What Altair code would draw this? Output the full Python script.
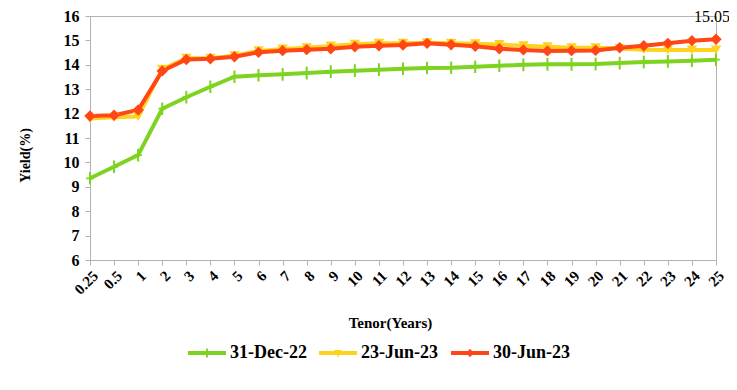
import altair as alt
import pandas as pd

tenor = ["0.25", "0.5", "1", "2", "3", "4", "5", "6", "7", "8", "9", "10", "11", "12",
         "13", "14", "15", "16", "17", "18", "19", "20", "21", "22", "23", "24", "25"]
series_names = ["31-Dec-22", "23-Jun-23", "30-Jun-23"]
colors = ["#7ED321", "#FFD21F", "#FF4614"]

dec22 = [9.35, 9.82, 10.30, 12.20, 12.67, 13.10, 13.51, 13.57, 13.61, 13.66, 13.72, 13.76, 13.80,
         13.84, 13.87, 13.88, 13.92, 13.96, 14.00, 14.02, 14.02, 14.03, 14.07, 14.11, 14.14, 14.17, 14.21]
jun23a = [11.80, 11.85, 11.88, 13.82, 14.27, 14.27, 14.37, 14.57, 14.65, 14.70, 14.77, 14.84, 14.88,
          14.88, 14.90, 14.88, 14.86, 14.83, 14.78, 14.74, 14.70, 14.70, 14.67, 14.62, 14.61, 14.61, 14.61]
jun23b = [11.90, 11.93, 12.15, 13.75, 14.22, 14.25, 14.33, 14.51, 14.58, 14.62, 14.66, 14.74, 14.78,
          14.81, 14.88, 14.82, 14.76, 14.66, 14.61, 14.57, 14.58, 14.59, 14.70, 14.78, 14.88, 14.99, 15.05]

rows = []
for name, vals in zip(series_names, [dec22, jun23a, jun23b]):
    for t, v in zip(tenor, vals):
        rows.append({"tenor": t, "series": name, "value": v})
df = pd.DataFrame(rows)

FONT = "Liberation Serif"

cross_path = ("M-0.16,-1L0.16,-1L0.16,-0.14L0.6,-0.14L0.6,0.14L0.16,0.14L0.16,1L-0.16,1"
              "L-0.16,0.14L-0.6,0.14L-0.6,-0.14L-0.16,-0.14Z")
marker_shapes = [cross_path, "triangle-down", "diamond"]
marker_sizes = [160, 110, 130]
line_rect = "M-1,-0.1L1,-0.1L1,0.1L-1,0.1Z"
leg_paths = [
    line_rect + "M-0.05,-0.24L0.05,-0.24L0.05,0.24L-0.05,0.24Z",
    line_rect + "M-0.2,-0.16L0.2,-0.16L0,0.24Z",
    line_rect + "M0,-0.22L0.2,0L0,0.22L-0.2,0Z",
]

x_enc = alt.X("tenor:N", sort=tenor, scale=alt.Scale(type="point", padding=0),
              axis=alt.Axis(labelAngle=-45, labelFontSize=15, labelFont=FONT, labelFontWeight="bold",
                            tickSize=5, labelPadding=3, title="Tenor(Years)", titleFont=FONT,
                            titleFontSize=15, titleFontWeight="bold", titleY=55, titleX=300))
y_enc = alt.Y("value:Q", scale=alt.Scale(domain=[6, 16], nice=False, zero=False),
              axis=alt.Axis(values=list(range(6, 17)), tickSize=5, labelPadding=6, labelFontSize=16,
                            labelFont=FONT, labelFontWeight="bold", title="Yield(%)", titleFont=FONT,
                            titleFontSize=14, titleFontWeight="bold", titleX=-58, titleY=139))
color_scale = alt.Scale(domain=series_names, range=colors)

base = alt.Chart(df)

leg_kwargs = dict(
    title=None, orient="none", direction="horizontal", legendX=98, legendY=318,
    labelFont=FONT, labelFontSize=18, labelFontWeight="bold", labelColor="black",
    labelOffset=4, columnPadding=12, padding=0, symbolSize=1444, symbolStrokeWidth=0,
    symbolOpacity=1,
)
legend_layer = base.transform_filter("false").mark_point(
    filled=True, opacity=1, size=1444, strokeWidth=0
).encode(
    x=x_enc, y=y_enc,
    color=alt.Color("series:N", scale=color_scale, legend=alt.Legend(**leg_kwargs)),
    shape=alt.Shape("series:N", scale=alt.Scale(domain=series_names, range=leg_paths),
                    legend=alt.Legend(**leg_kwargs)),
)

lines = base.mark_line(strokeWidth=4).encode(
    x=x_enc, y=y_enc,
    color=alt.Color("series:N", scale=color_scale, legend=None),
)

point_layers = []
for name, shp, sz in zip(series_names, marker_shapes, marker_sizes):
    point_layers.append(
        base.transform_filter(alt.datum.series == name)
        .mark_point(filled=True, opacity=1, size=sz, shape=shp, strokeWidth=0)
        .encode(x=x_enc, y=y_enc, color=alt.Color("series:N", scale=color_scale, legend=None))
    )

label = base.transform_filter(
    (alt.datum.series == series_names[2]) & (alt.datum.tenor == tenor[-1])
).mark_text(dy=-22, dx=-4, fontSize=16, font=FONT, color="black").encode(
    x=x_enc, y=y_enc, text=alt.Text("value:Q", format=".2f")
)

chart = alt.layer(legend_layer, lines, *point_layers, label).properties(
    width=626, height=244,
    autosize=alt.AutoSizeParams(type="none"),
    padding={"left": 82, "top": 8, "right": 13, "bottom": 122},
).configure_view(stroke="#b3b3b3", strokeWidth=1).configure_axis(
    domainColor="#b3b3b3", tickColor="#b3b3b3", grid=False, labelColor="black", titleColor="black"
)

chart.save("out.html", embed_options={"renderer": "svg", "actions": False})
